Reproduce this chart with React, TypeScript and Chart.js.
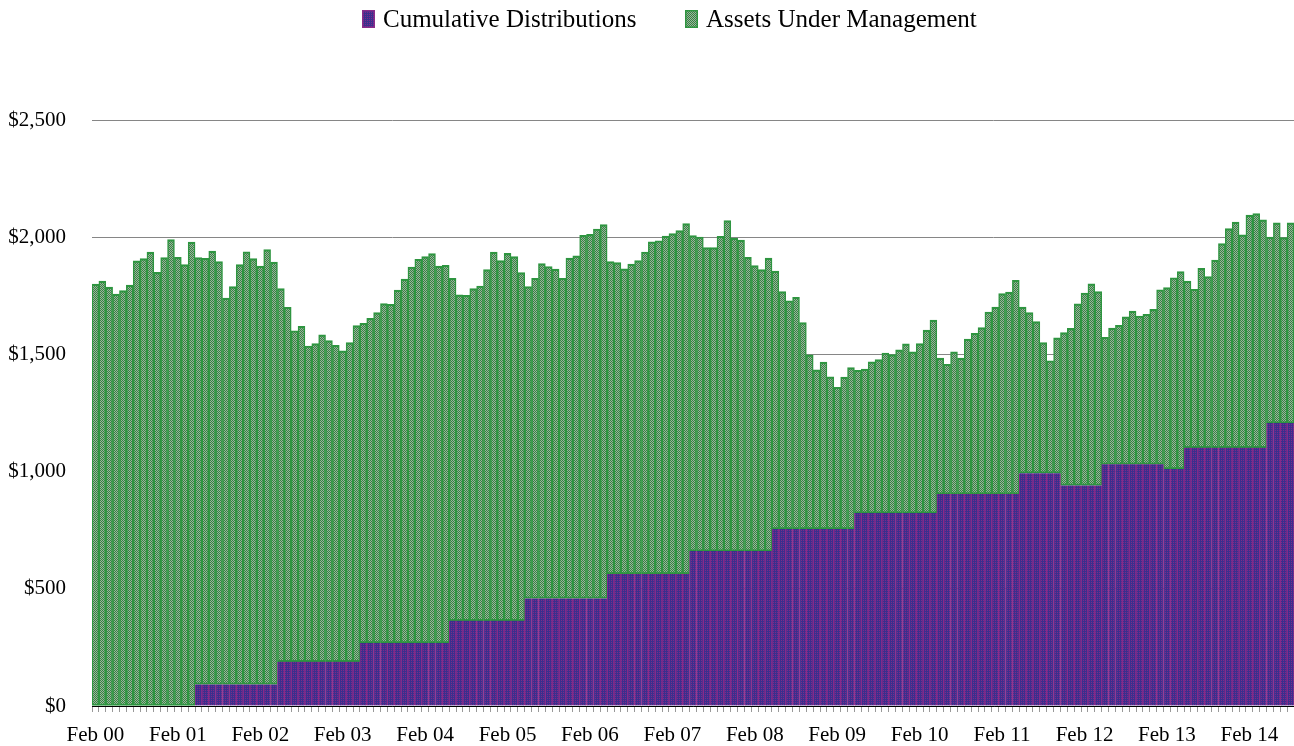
import React, { useEffect, useRef } from 'react';
import { Chart, registerables } from 'chart.js';

Chart.register(...registerables);

const MONTHS = ['Feb', 'Mar', 'Apr', 'May', 'Jun', 'Jul', 'Aug', 'Sep', 'Oct', 'Nov', 'Dec', 'Jan'];
const YEARS = ['00', '01', '02', '03', '04', '05', '06', '07', '08', '09', '10', '11', '12', '13', '14', '15'];

const SERIES_NAMES = ['Cumulative Distributions', 'Assets Under Management'];

// Cumulative distributions ($), monthly from Feb 00
const DISTRIBUTIONS = [
  0, 0, 0, 0, 0, 0, 0, 0, 0, 0, 0, 0, 0, 0, 0,
  92, 92, 92, 92, 92, 92, 92, 92, 92, 92, 92, 92,
  189, 189, 189, 189, 189, 189, 189, 189, 189, 189, 189, 189,
  269, 269, 269, 269, 269, 269, 269, 269, 269, 269, 269, 269, 269,
  364, 364, 364, 364, 364, 364, 364, 364, 364, 364, 364,
  459, 459, 459, 459, 459, 459, 459, 459, 459, 459, 459, 459,
  563, 563, 563, 563, 563, 563, 563, 563, 563, 563, 563, 563,
  661, 661, 661, 661, 661, 661, 661, 661, 661, 661, 661, 661,
  755, 755, 755, 755, 755, 755, 755, 755, 755, 755, 755, 755,
  823, 823, 823, 823, 823, 823, 823, 823, 823, 823, 823, 823,
  904, 904, 904, 904, 904, 904, 904, 904, 904, 904, 904, 904,
  993, 993, 993, 993, 993, 993,
  941, 941, 941, 941, 941, 941,
  1031, 1031, 1031, 1031, 1031, 1031, 1031, 1031, 1031,
  1011, 1011, 1011,
  1102, 1102, 1102, 1102, 1102, 1102, 1102, 1102, 1102, 1102, 1102, 1102,
  1207, 1207, 1207, 1207,
];

// Assets under management ($), monthly from Feb 00
const AUM = [
  1800, 1813, 1787, 1757, 1772, 1796, 1899, 1909, 1936, 1850, 1913, 1990, 1914, 1883, 1979,
  1821, 1818, 1849, 1804, 1648, 1697, 1791, 1846, 1817, 1785, 1855, 1802,
  1592, 1512, 1412, 1431, 1347, 1357, 1394, 1370, 1350, 1326, 1361, 1434,
  1364, 1385, 1409, 1448, 1445, 1505, 1552, 1604, 1637, 1648, 1661, 1608, 1611,
  1461, 1390, 1388, 1417, 1428, 1498, 1572, 1536, 1567, 1553, 1485,
  1330, 1366, 1428, 1416, 1405, 1366, 1452, 1461, 1549, 1553, 1576, 1595,
  1333, 1329, 1302, 1322, 1337, 1374, 1417, 1422, 1442, 1452, 1465, 1495,
  1346, 1340, 1295, 1295, 1343, 1410, 1335, 1327, 1253, 1218, 1201, 1250,
  1100, 1013, 974, 989, 881, 743, 679, 712, 649, 605, 648, 689,
  609, 614, 645, 655, 683, 676, 696, 722, 688, 723, 781, 823,
  580, 554, 607, 580, 661, 686, 710, 777, 798, 855, 862, 912,
  709, 685, 647, 557, 480, 578,
  652, 670, 775, 821, 860, 827,
  542, 581, 593, 629, 654, 633, 640, 661, 745,
  774, 816, 842,
  711, 676, 765, 730, 800, 871, 935, 962, 908, 992, 999, 972,
  793, 854, 791, 854,
];

const Y_MIN = 0;
const Y_MAX = 2500;
const Y_STEP = 500;

const FONT = "'Liberation Serif', 'Times New Roman', serif";

function makePattern(ctx: CanvasRenderingContext2D, grid: string[][]) {
  const c = document.createElement('canvas');
  c.width = grid[0].length;
  c.height = grid.length;
  const cx = c.getContext('2d')!;
  grid.forEach((row, y) =>
    row.forEach((col, x) => {
      cx.fillStyle = col;
      cx.fillRect(x, y, 1, 1);
    })
  );
  return ctx.createPattern(c, 'repeat')!;
}

export default function App() {
  const ref = useRef<HTMLCanvasElement>(null);

  useEffect(() => {
    const canvas = ref.current!;
    const ctx = canvas.getContext('2d')!;

    const G1 = '#318a40';
    const G2 = '#a0ada0';
    const greenPattern = makePattern(ctx, [
      [G1, G2],
      [G2, G1],
    ]);
    const P1 = '#3b2f8e';
    const P2 = '#7e2b88';
    const purplePattern = makePattern(ctx, [
      [P1, P2],
      [P1, P1],
    ]);
    const GREEN_BORDER = '#2e9540';
    const PURPLE_BORDER = '#8a2b8a';

    const categories = AUM.map((_, i) => {
      const m = i % 12;
      const y = Math.floor(i / 12) + (m === 11 ? 1 : 0);
      return MONTHS[m] + ' ' + YEARS[y];
    });

    const legendPlugin = {
      id: 'customLegend',
      afterDraw(chart: any) {
        const c = chart.ctx as CanvasRenderingContext2D;
        c.save();
        const items = [
          { x: 362, fill: purplePattern, stroke: PURPLE_BORDER, text: SERIES_NAMES[0] },
          { x: 685, fill: greenPattern, stroke: GREEN_BORDER, text: SERIES_NAMES[1] },
        ];
        items.forEach((it) => {
          c.fillStyle = it.fill;
          c.fillRect(it.x, 10, 13, 18);
          c.strokeStyle = it.stroke;
          c.lineWidth = 1.5;
          c.strokeRect(it.x + 0.75, 10.75, 11.5, 16.5);
          c.fillStyle = '#000';
          c.font = `25px ${FONT}`;
          c.textAlign = 'left';
          c.textBaseline = 'alphabetic';
          c.fillText(it.text, it.x + 21, 27);
        });
        c.restore();
      },
    };

    const chart = new Chart(canvas, {
      type: 'bar',
      data: {
        labels: categories,
        datasets: [
          {
            label: SERIES_NAMES[0],
            data: DISTRIBUTIONS,
            backgroundColor: purplePattern,
            borderColor: PURPLE_BORDER,
            borderWidth: { left: 1, right: 1, top: 0, bottom: 0 },
            borderSkipped: 'start',
            categoryPercentage: 1,
            barPercentage: 1,
          },
          {
            label: SERIES_NAMES[1],
            data: AUM,
            backgroundColor: greenPattern,
            borderColor: GREEN_BORDER,
            borderWidth: { left: 1.5, right: 1.5, top: 2.2, bottom: 2 },
            borderSkipped: false,
            categoryPercentage: 1,
            barPercentage: 1,
          },
        ],
      },
      options: {
        responsive: false,
        animation: false,
        devicePixelRatio: 1,
        layout: { padding: { top: 120, left: 0, right: 0, bottom: 0 } },
        plugins: {
          legend: { display: false },
          tooltip: { enabled: false },
        },
        scales: {
          x: {
            stacked: true,
            offset: true,
            grid: {
              display: true,
              offset: true,
              drawOnChartArea: false,
              drawTicks: true,
              tickLength: 6,
              color: '#999999',
            },
            border: { display: true, color: '#000000', width: 1 },
            ticks: {
              autoSkip: false,
              maxRotation: 0,
              minRotation: 0,
              padding: 2,
              color: '#000000',
              font: { family: FONT, size: 21, lineHeight: 2.05 },
              callback: (_v: any, i: number) => (i % 12 === 0 ? categories[i] : ''),
            },
            afterFit: (s: any) => {
              s.height = 40;
            },
          },
          y: {
            stacked: true,
            min: Y_MIN,
            max: Y_MAX,
            grid: {
              color: '#868686',
              lineWidth: 1,
              drawTicks: false,
            },
            border: { display: false },
            ticks: {
              stepSize: Y_STEP,
              padding: 26,
              color: '#000000',
              font: { family: FONT, size: 21 },
              callback: (v: any) => '$' + Number(v).toLocaleString('en-US'),
            },
            afterFit: (s: any) => {
              s.width = 92;
            },
          },
        },
      },
      plugins: [legendPlugin],
    });

    return () => chart.destroy();
  }, []);

  return (
    <div style={{ position: 'fixed', left: 0, top: 0, width: 1294, height: 746, background: '#fff' }}>
      <canvas ref={ref} width={1294} height={746} style={{ display: 'block', width: 1294, height: 746 }} />
    </div>
  );
}
